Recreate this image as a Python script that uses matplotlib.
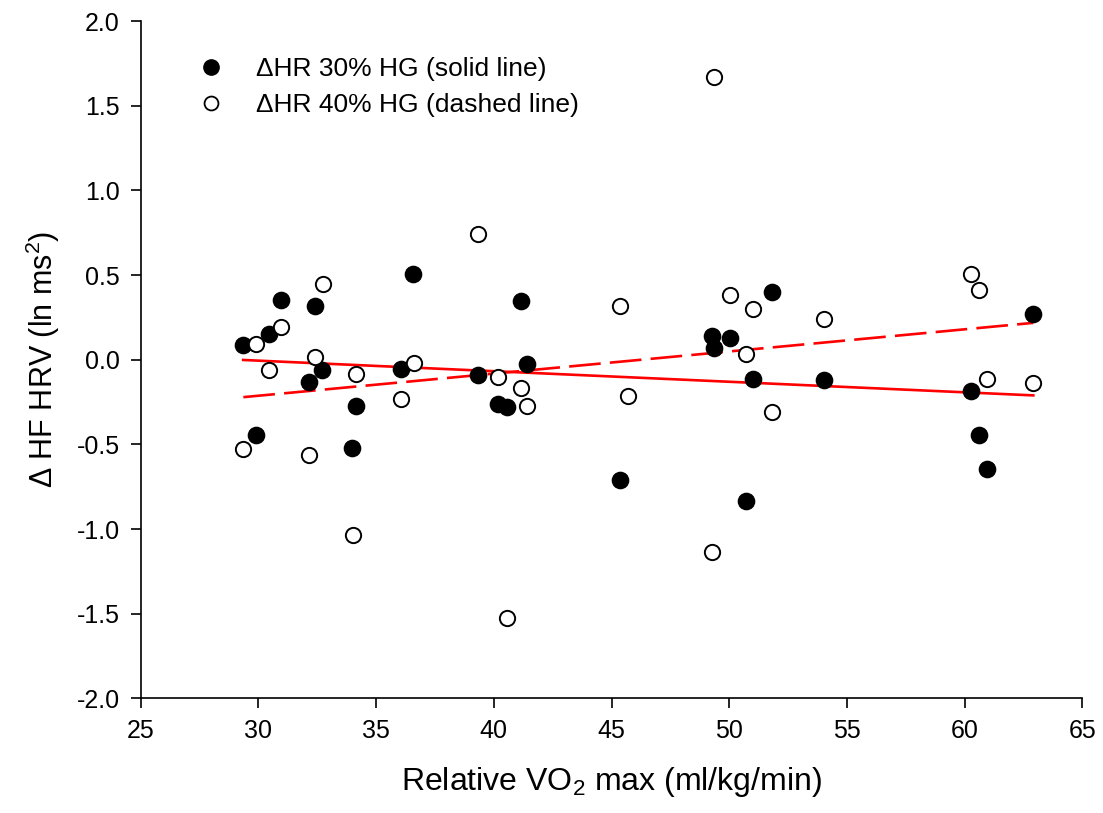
import numpy as np
import matplotlib
matplotlib.use('Agg')
import matplotlib.pyplot as plt
from matplotlib.lines import Line2D

plt.rcParams['font.family'] = ['Liberation Sans', 'DejaVu Sans']
plt.rcParams['mathtext.fontset'] = 'custom'
plt.rcParams['mathtext.rm'] = 'Liberation Sans'
plt.rcParams['mathtext.it'] = 'Liberation Sans:italic'

# relative VO2 max (ml/kg/min) and change in HF HRV (ln ms^2)
vo2_30 = [29.35, 29.9, 30.45, 30.96, 32.15, 32.4, 32.7, 33.97, 34.14, 36.05,
          36.56, 39.34, 40.19, 40.57, 41.17, 41.4, 45.37, 49.28, 49.37, 50.03,
          50.71, 51.0, 51.83, 54.01, 60.28, 60.61, 60.96, 62.92]
hf_30 = [0.09, -0.445, 0.15, 0.353, -0.13, 0.317, -0.06, -0.52, -0.273, -0.055,
         0.506, -0.09, -0.264, -0.28, 0.347, -0.025, -0.712, 0.14, 0.067, 0.126,
         -0.836, -0.116, 0.398, -0.122, -0.185, -0.447, -0.644, 0.27]

vo2_40 = [29.36, 29.9, 30.45, 30.95, 32.14, 32.42, 32.73, 34.0, 34.15, 36.06,
          36.6, 39.34, 40.19, 40.55, 41.17, 41.4, 45.37, 45.69, 49.28, 49.37,
          50.03, 50.71, 51.0, 51.83, 54.01, 60.27, 60.61, 60.96, 62.92]
hf_40 = [-0.53, 0.093, -0.061, 0.191, -0.563, 0.018, 0.447, -1.037, -0.086, -0.234,
         -0.02, 0.744, -0.104, -1.524, -0.165, -0.273, 0.319, -0.214, -1.138, 1.672,
         0.384, 0.034, 0.301, -0.309, 0.239, 0.506, 0.413, -0.112, -0.14]

fig = plt.figure(figsize=(11.03, 8.13), dpi=100)
ax = fig.add_axes([0.1276, 0.141, 0.8536, 0.833])

# linear fits over the range of each group
fit_30 = np.polyfit(vo2_30, hf_30, 1)
fit_40 = np.polyfit(vo2_40, hf_40, 1)
xs_30 = np.array([min(vo2_30), max(vo2_30)])
xs_40 = np.array([min(vo2_40), max(vo2_40)])
ax.plot(xs_30, np.polyval(fit_30, xs_30), color='red', lw=1.9, zorder=2)
ax.plot(xs_40, np.polyval(fit_40, xs_40), color='red', lw=1.9,
        dashes=(12, 3.5), zorder=2)

ax.plot(vo2_30, hf_30, 'o', ms=11.5, mfc='black', mec='black', mew=1.2, zorder=3)
ax.plot(vo2_40, hf_40, 'o', ms=11, mfc='white', mec='black', mew=1.4, zorder=3)

ax.set_xlim(25, 65)
ax.set_ylim(-2.0, 2.0)
ax.set_xticks(np.arange(25, 66, 5))
ax.set_yticks(np.arange(-2.0, 2.01, 0.5))
ax.set_yticklabels([f'{v:.1f}' for v in np.arange(-2.0, 2.01, 0.5)])
ax.tick_params(direction='out', length=7, width=1.2, labelsize=18, pad=8)
for side in ['top', 'right']:
    ax.spines[side].set_visible(False)
for side in ['left', 'bottom']:
    ax.spines[side].set_linewidth(1.2)

ax.set_xlabel('Relative VO$_2$ max (ml/kg/min)', fontsize=23, labelpad=16)
ax.set_ylabel('$\\Delta$ HF HRV (ln ms$^2$)', fontsize=22, labelpad=11)

handles = [
    Line2D([], [], ls='none', marker='o', ms=11, mfc='black', mec='black'),
    Line2D([], [], ls='none', marker='o', ms=10, mfc='white', mec='black', mew=1.3),
]
labels = ['\u0394HR 30% HG (solid line)', '\u0394HR 40% HG (dashed line)']
ax.legend(handles, labels, loc='upper left', bbox_to_anchor=(0.0606, 0.947),
          frameon=False, fontsize=19, handlelength=1.0, handletextpad=1.2,
          labelspacing=0.45, borderpad=0, borderaxespad=0)

fig.savefig('out.png', dpi=100)
